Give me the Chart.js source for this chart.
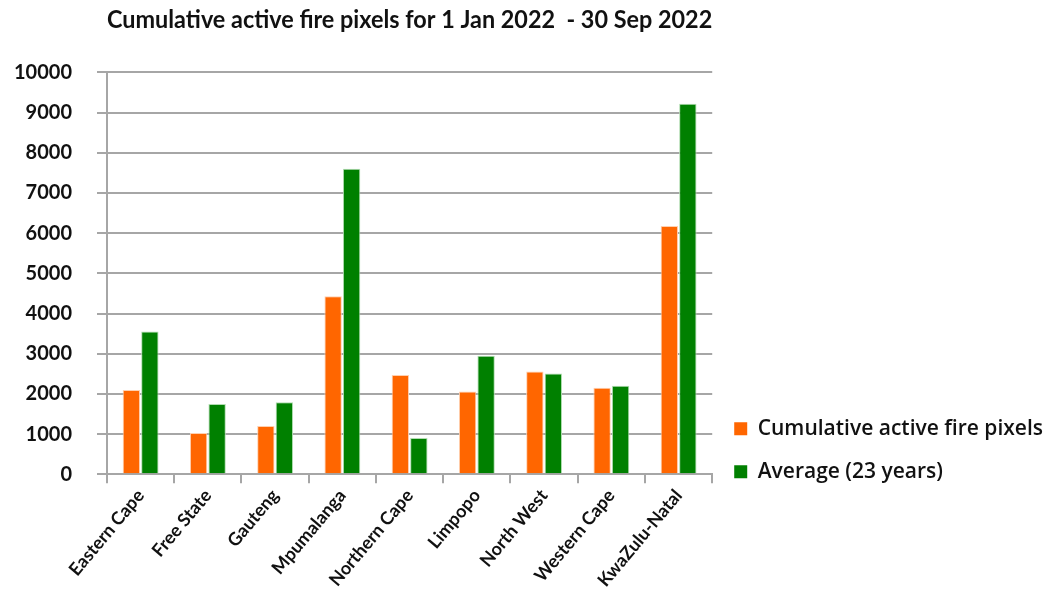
<!DOCTYPE html>
<html>
<head>
<meta charset="utf-8">
<script src="https://cdn.jsdelivr.net/npm/chart.js@4/dist/chart.umd.min.js"></script>
<style>
  html, body { margin: 0; padding: 0; background: #fff; }
  #wrap { width: 1059px; height: 616px; }
</style>
</head>
<body>
<div id="wrap"><canvas id="barChart" width="1059" height="616"></canvas></div>
<script>
// provinces
var provinces = ['Eastern Cape', 'Free State', 'Gauteng', 'Mpumalanga', 'Northern Cape',
                 'Limpopo', 'North West', 'Western Cape', 'KwaZulu-Natal'];
// 1 Jan 2022 - 30 Sep 2022
var firePixels2022 = [2100, 1030, 1200, 4430, 2470, 2060, 2560, 2150, 6180];
// long term average
var average23yr = [3550, 1750, 1790, 7600, 900, 2950, 2510, 2200, 9220];
var yTicks = [0, 1000, 2000, 3000, 4000, 5000, 6000, 7000, 8000, 9000, 10000];

var font = "Lato, 'Open Sans', sans-serif";
var wideFont = "'Open Sans', Lato, sans-serif";
var gridGrey = '#a6a6a6';

// nudge the legend down so it sits level with the bottom of the bars
var legendNudge = {
    id: 'legendNudge',
    afterLayout: function (chart) {
        var lg = chart.legend;
        if (lg) { lg.top += 30; lg.bottom += 30; }
    }
};

var ctx = document.getElementById('barChart').getContext('2d');
var fireChart = new Chart(ctx, {
    type: 'bar',
    data: {
        labels: provinces,
        datasets: [{
            label: 'Cumulative active fire pixels',
            data: firePixels2022,
            backgroundColor: '#ff6600',
            borderColor: '#ffd0b0',
            borderWidth: 1
        }, {
            label: 'Average (23 years)',
            data: average23yr,
            backgroundColor: '#008000',
            borderColor: '#b0dcb0',
            borderWidth: 1
        }]
    },
    plugins: [legendNudge],
    options: {
        responsive: false,
        animation: false,
        categoryPercentage: 0.55,
        barPercentage: 0.94,
        layout: { padding: { left: -11, right: 6, top: 0, bottom: 23 } },
        plugins: {
            title: {
                display: true,
                fullSize: false,
                text: 'Cumulative active fire pixels for 1 Jan 2022  - 30 Sep 2022',
                color: '#111',
                font: { family: font, size: 24.5, weight: 'bold' },
                padding: { top: 5, bottom: 38 }
            },
            legend: {
                position: 'right',
                align: 'end',
                fullSize: false,
                maxWidth: 440,
                labels: {
                    color: '#111',
                    boxWidth: 13,
                    boxHeight: 13,
                    padding: 22,
                    font: { family: wideFont, size: 21, weight: '600' },
                    generateLabels: function (chart) {
                        return chart.data.datasets.map(function (ds, i) {
                            return {
                                text: ds.label,
                                fillStyle: ds.backgroundColor,
                                strokeStyle: ds.backgroundColor,
                                lineWidth: 0,
                                datasetIndex: i,
                                fontColor: '#111'
                            };
                        });
                    }
                }
            },
            tooltip: { enabled: false }
        },
        scales: {
            x: {
                border: { display: true, color: gridGrey, width: 2 },
                grid: { drawOnChartArea: false, drawTicks: true, tickLength: 9, color: gridGrey, lineWidth: 2 },
                ticks: {
                    color: '#111',
                    minRotation: 50,
                    maxRotation: 50,
                    padding: 2,
                    font: { family: font, size: 18, weight: 'bold' }
                }
            },
            y: {
                min: 0,
                max: 10000,
                afterBuildTicks: function (axis) {
                    axis.ticks = yTicks.map(function (v) { return { value: v }; });
                },
                border: { display: true, color: gridGrey, width: 2 },
                grid: { color: gridGrey, lineWidth: 2, tickLength: 10 },
                ticks: {
                    color: '#111',
                    padding: 25,
                    font: { family: font, size: 20, weight: 'bold' },
                    callback: function (v) { return String(v); }
                }
            }
        }
    }
});
</script>
</body>
</html>
